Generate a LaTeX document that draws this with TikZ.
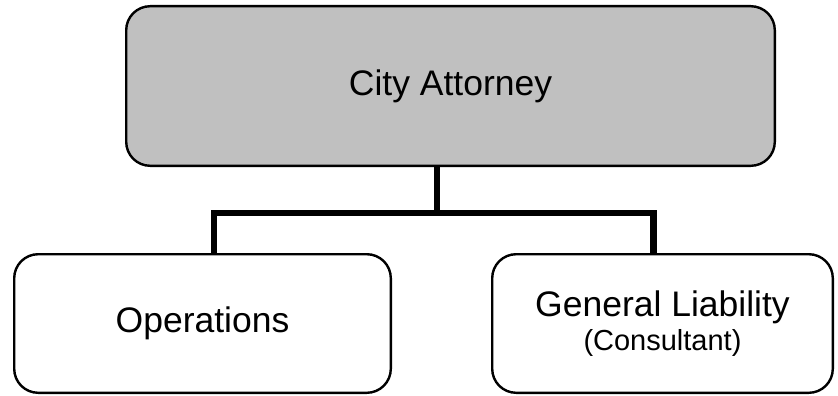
\documentclass[tikz,border=0pt]{standalone}
\usepackage{fontspec}
\setmainfont{Liberation Sans}
\usepackage{tikz}
\usetikzlibrary{calc}
\definecolor{boxGray}{RGB}{192,192,192}

\begin{document}
\begin{tikzpicture}[
	x=1pt, y=-1pt,
	unit/.style={draw, line width=2.4pt, rounded corners=24pt, inner sep=0pt, align=center,
		font=\fontsize{35.5}{40}\selectfont},
	headUnit/.style={unit, fill=boxGray},
	conn/.style={line width=6.4pt, line join=miter}
	]
	
	\useasboundingbox (0,0) rectangle (838,396);
	
	% Units
	\node [headUnit, minimum width=648.6pt, minimum height=159.6pt] (ca) at (450.5, 86) {City Attorney};
	\node [unit, minimum width=376.6pt, minimum height=138.6pt] (ops) at (202.5, 323.5) {Operations};
	\node [unit, minimum width=340.6pt, minimum height=138.6pt] (gl) at (662.5, 323.5)
		{General Liability\\[-6pt]{\fontsize{29}{34}\selectfont (Consultant)}};
	
	% Reporting lines
	\coordinate (bus) at (437, 213);
	\draw [conn] (ca.south -| bus) -- (bus);
	\draw [conn] ($(ops.north) + (11.5, 0)$) |- (bus) -| ($(gl.north) + (-9, 0)$);
	
\end{tikzpicture}
\end{document}
